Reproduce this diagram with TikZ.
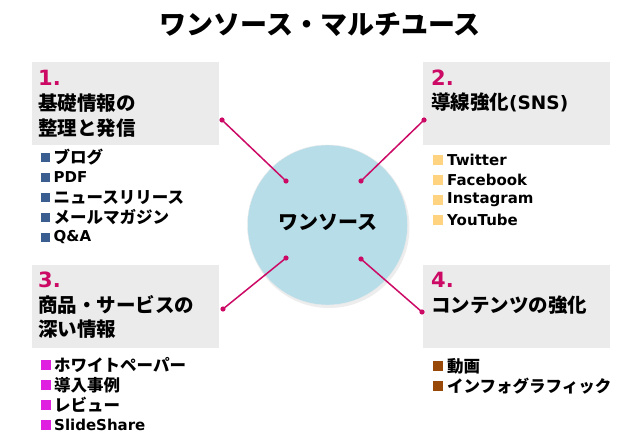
\documentclass[tikz,border=0pt]{standalone}
\usepackage{fontspec}
\newfontfamily\jp{Noto Sans CJK JP}
\newfontfamily\lat{DejaVu Sans}
\definecolor{boxgray}{HTML}{EBEBEB}
\definecolor{mag}{HTML}{CC0A66}
\definecolor{cblue}{HTML}{B7DDE8}
\definecolor{bulA}{HTML}{3B5E91}
\definecolor{bulB}{HTML}{FFD37F}
\definecolor{bulC}{HTML}{E020E0}
\definecolor{bulD}{HTML}{984807}
\begin{document}
\begin{tikzpicture}[x=1pt,y=-1pt,
  box/.style={fill=boxgray,draw=none,minimum width=187pt,minimum height=83pt,anchor=north west,inner sep=0},
  num/.style={font=\lat\bfseries\fontsize{21}{21}\selectfont,text=mag,anchor=west,inner sep=0},
  head/.style={font=\jp\bfseries\fontsize{19.5}{24}\selectfont,anchor=west,inner sep=0},
  itemjp/.style={font=\jp\bfseries\fontsize{16.5}{20}\selectfont,anchor=west,inner sep=0},
  itemlat/.style={font=\lat\bfseries\fontsize{15}{20}\selectfont,anchor=west,inner sep=0},
  sq/.style={rectangle,minimum size=9.5pt,inner sep=0,draw=none},
  conn/.style={draw=mag,line width=1.5pt},
  dot/.style={fill=mag}]
\useasboundingbox (0,0) rectangle (640,446);
\fill[white] (0,0) rectangle (640,446);

\node[font=\jp\bfseries\fontsize{27}{27}\selectfont,inner sep=0] (title) at (320,24.5) {ワンソース・マルチユース};

% boxes
\node[box] (b1) at (32,62) {};
\node[box] (b2) at (423,62) {};
\node[box] (b3) at (32,265) {};
\node[box] (b4) at (423,265) {};

% box 1
\node[num] (n1) at (38,78) {1.};
\node[head] (h1a) at (38,103.5) {基礎情報の};
\node[head] (h1b) at (38,128) {整理と発信};
\foreach \t/\f [count=\i] in {ブログ/jp,PDF/lat,ニュースリリース/jp,メールマガジン/jp,Q\&A/lat}{
  \node[sq,fill=bulA] (s1-\i) at (45.7,{137.5+20*\i}) {};
  \node[item\f] (l1-\i) at (53.5,{137.5+20*\i}) {\t};
}

% box 2
\node[num] (n2) at (431,77.5) {2.};
\node[head] (h2a) at (431,102.5) {導線強化{\lat\bfseries\fontsize{18.5}{24}\selectfont(SNS)}};
\foreach \t [count=\i] in {Twitter,Facebook,Instagram,YouTube}{
  \node[sq,fill=bulB] (s2-\i) at (438,{140+20*\i}) {};
  \node[itemlat] (l2-\i) at (447,{140+20*\i}) {\t};
}

% box 3
\node[num] (n3) at (38,280) {3.};
\node[head] (h3a) at (38,305) {商品・サービスの};
\node[head] (h3b) at (38,329.5) {深い情報};
\foreach \t/\f [count=\i] in {ホワイトペーパー/jp,導入事例/jp,レビュー/jp,SlideShare/lat}{
  \node[sq,fill=bulC] (s3-\i) at (46.2,{345+20*\i}) {};
  \node[item\f] (l3-\i) at (54,{345+20*\i}) {\t};
}

% box 4
\node[num] (n4) at (431,280) {4.};
\node[head] (h4a) at (431,305) {コンテンツの強化};
\foreach \t [count=\i] in {動画,インフォグラフィック}{
  \node[sq,fill=bulD] (s4-\i) at (438,{346+20*\i}) {};
  \node[itemjp] (l4-\i) at (447,{346+20*\i}) {\t};
}

% circle
\fill[black!7] (329,227.5) circle (80.5);
\node[circle,fill=cblue,draw=black!8,line width=0.4pt,minimum size=160pt,inner sep=0] (c) at (327.5,225) {};
\node[font=\jp\bfseries\fontsize{20}{20}\selectfont,inner sep=0] (ct) at (327.5,222.5) {ワンソース};

% connectors
\coordinate (p1o) at (222,120); \coordinate (p1i) at (286,181);
\coordinate (p2o) at (424,120); \coordinate (p2i) at (361,181);
\coordinate (p3o) at (223,309); \coordinate (p3i) at (286,258);
\coordinate (p4o) at (422,312); \coordinate (p4i) at (361,259);
\foreach \k in {1,2,3,4}{
  \draw[conn] (p\k o) -- (p\k i);
  \fill[dot] (p\k o) circle (2.6);
  \fill[dot] (p\k i) circle (2.6);
}
\end{tikzpicture}
\end{document}
